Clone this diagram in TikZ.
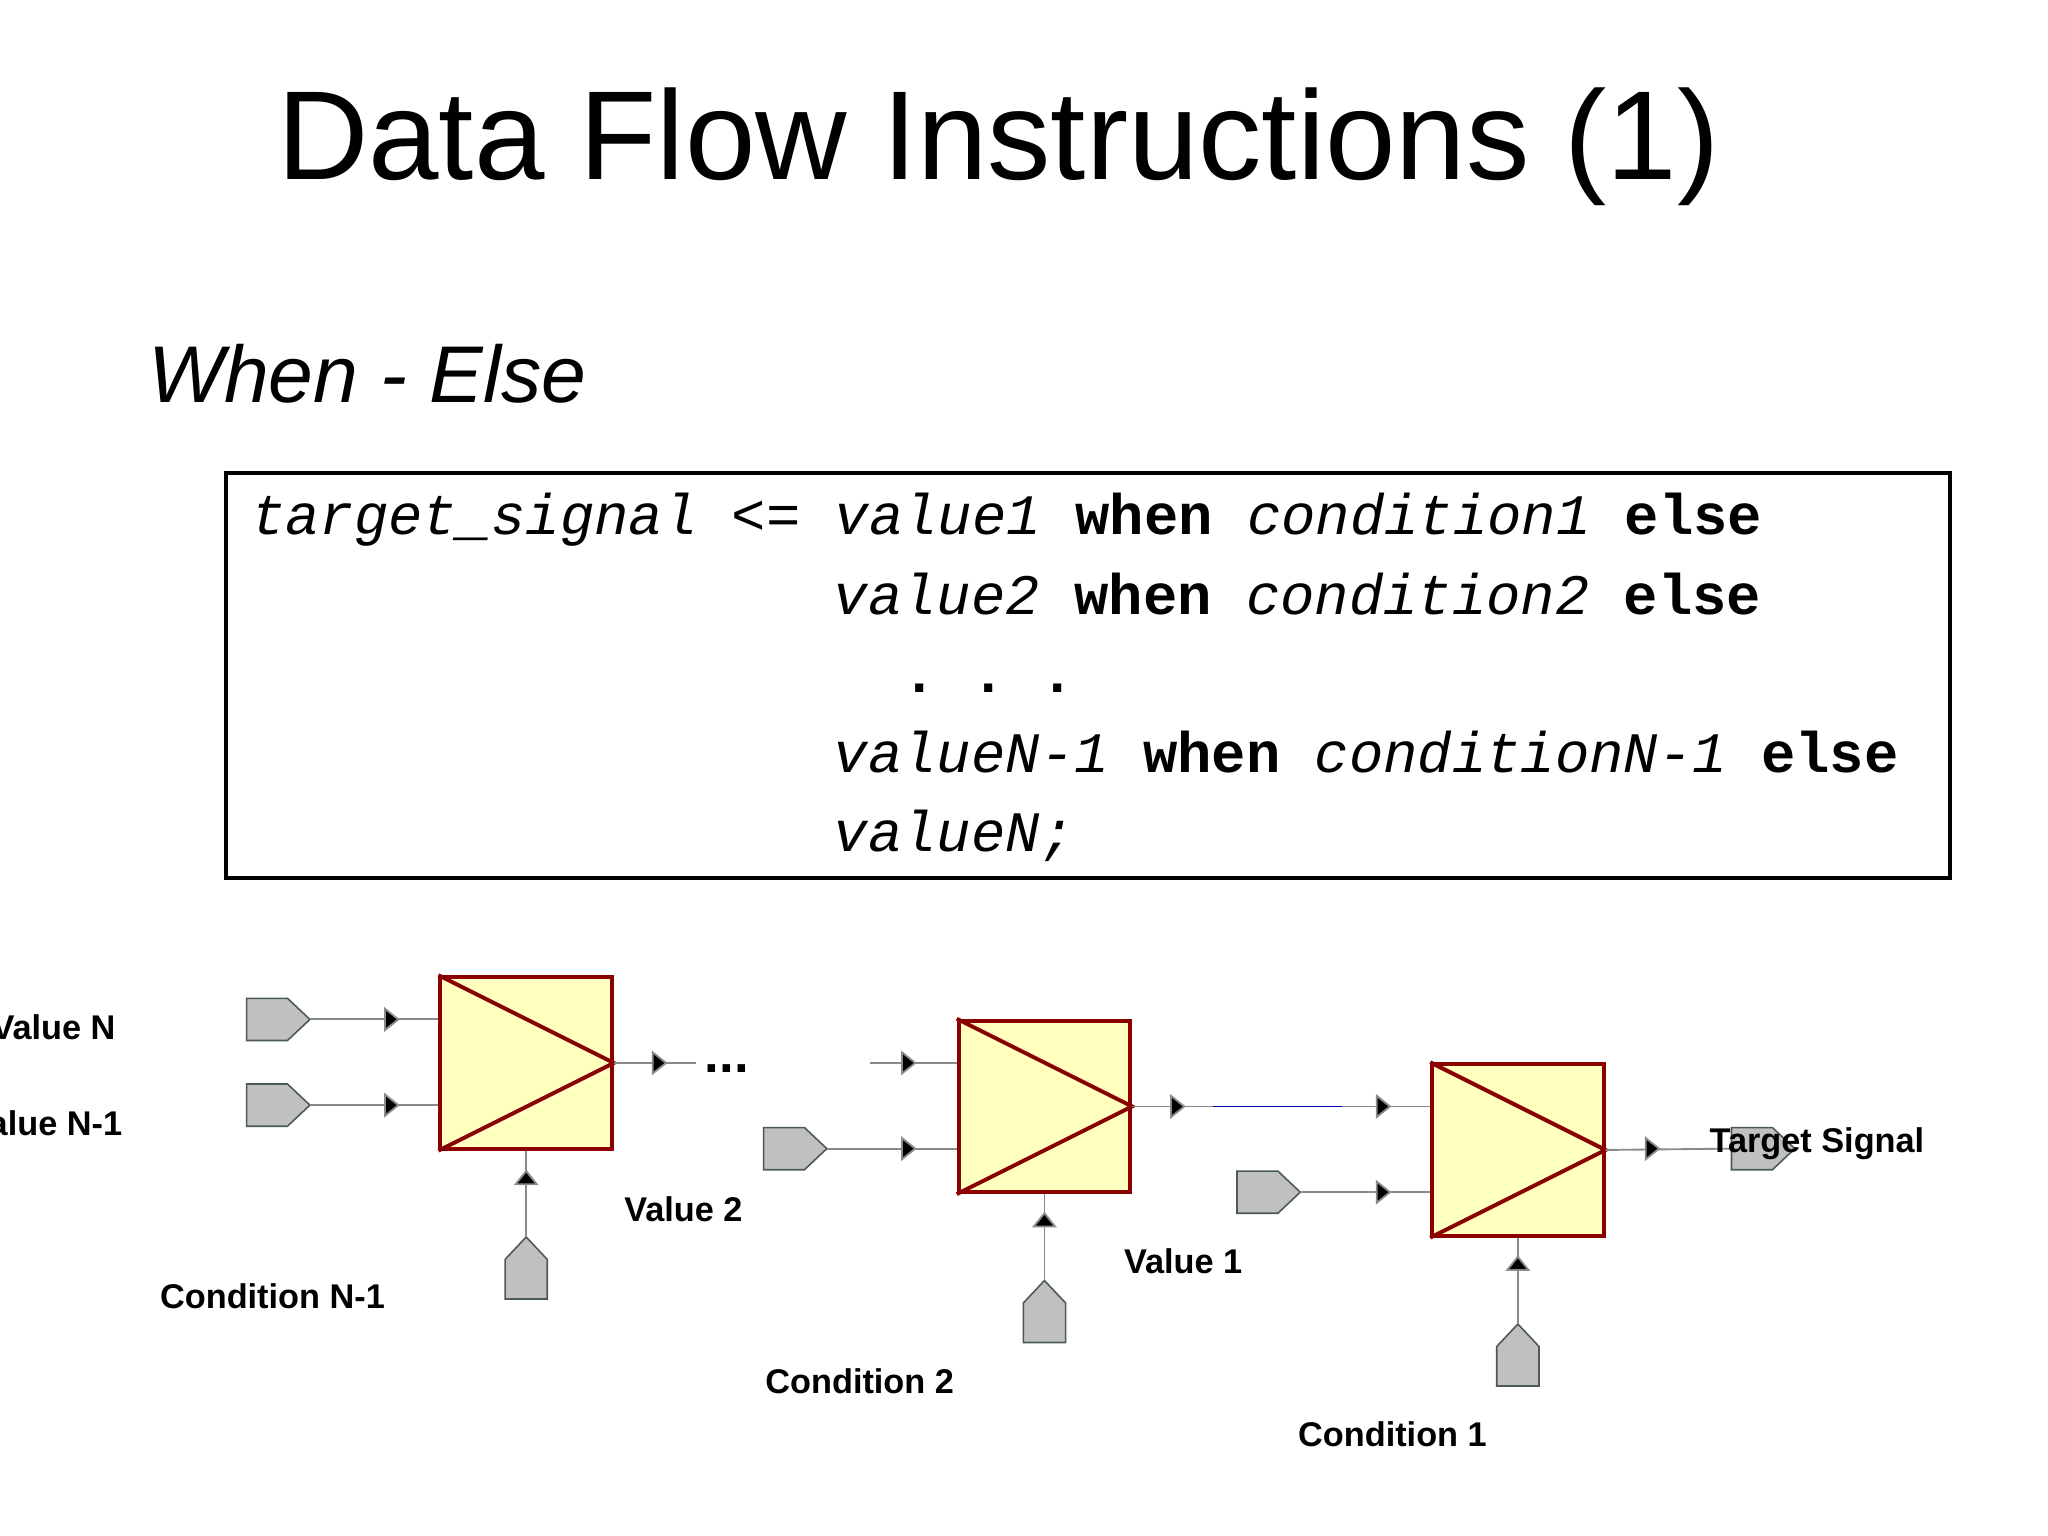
\documentclass[tikz,border=0pt]{standalone}
\usepackage{fontspec}
\setmainfont{Liberation Sans}
\newfontfamily\monof{Liberation Mono}
\definecolor{muxfill}{HTML}{FFFFC0}
\definecolor{muxline}{HTML}{8B0000}
\definecolor{portfill}{HTML}{C0C0C0}
\definecolor{portline}{HTML}{4A5A5A}
\definecolor{wire}{HTML}{8A8A8A}
\begin{document}
\begin{tikzpicture}[x=0.5pt,y=-0.5pt,
  mux/.style={draw=muxline,fill=muxfill,line width=1.5pt,minimum width=65pt,minimum height=65pt,inner sep=0pt},
  muxtri/.style={draw=muxline,line width=1.5pt,line join=miter},
  wire/.style={draw=wire,line width=0.7pt},
  lbl/.style={font=\bfseries\fontsize{13pt}{15pt}\selectfont,inner sep=0pt},
  code/.style={font=\monof\fontsize{21.7pt}{24pt}\selectfont,inner sep=0pt,anchor=base west},
  pics/portR/.style={code={\filldraw[fill=portfill,draw=portline,line width=0.6pt] (0,-16)--(31,-16)--(48,0)--(31,16)--(0,16)--cycle;}},
  pics/portU/.style={code={\filldraw[fill=portfill,draw=portline,line width=0.6pt] (-16,47)--(-16,17)--(0,0)--(16,17)--(16,47)--cycle;}},
  pics/triR/.style={code={\fill[wire] (-10,-8)--(0,0)--(-10,8)--cycle;}},
  pics/triU/.style={code={\fill[wire] (-8,10)--(0,0)--(8,10)--cycle;}},
]
\useasboundingbox (0,0) rectangle (1553,1164);
\node[font=\fontsize{48pt}{58pt}\selectfont,anchor=base,inner sep=0pt] (title) at (757,136) {Data Flow Instructions (1)};
\node[font=\itshape\fontsize{30.5pt}{36pt}\selectfont,anchor=base west,inner sep=0pt] (sub) at (112,305) {When - Else};
\node[draw,line width=1.5pt,minimum width=653.5pt,minimum height=153.5pt,anchor=north west,inner sep=0pt] (box) at (170,357) {};
\node[code] (l1) at (190,405) {\itshape target\_signal <= value1 \upshape\bfseries when \mdseries\itshape condition1 \upshape\bfseries else};
\node[code] (l2) at (632,466) {\itshape value2 \upshape\bfseries when \mdseries\itshape condition2 \upshape\bfseries else};
\node[code] (l3) at (632,525) {\bfseries\ \ .\ .\ .};
\node[code] (l4) at (632,586) {\itshape valueN-1 \upshape\bfseries when \mdseries\itshape conditionN-1 \upshape\bfseries else};
\node[code] (l5) at (632,646) {\itshape valueN;};
% muxes
\node[mux] (m1) at (399,806) {};
\node[mux] (m2) at (792,839) {};
\node[mux] (m3) at (1151,872) {};
\foreach \m in {m1,m2,m3} \draw[muxtri] (\m.north west) -- (\m.east) -- (\m.south west);
% ports
\coordinate (p1) at (235,773); \pic at (187,773) {portR};
\coordinate (p2) at (235,838); \pic at (187,838) {portR};
\coordinate (p3) at (627,871); \pic at (579,871) {portR};
\coordinate (p4) at (986,904); \pic at (938,904) {portR};
\coordinate (c1) at (399,938); \pic at (399,938) {portU};
\coordinate (c2) at (792,971); \pic at (792,971) {portU};
\coordinate (c3) at (1151,1004); \pic at (1151,1004) {portU};
\coordinate (tg) at (1313,871); \pic at (1313,871) {portR};
\coordinate (e1) at (528,806);
\coordinate (f2) at (660,806);
% wires
\draw[wire] (p1) -- (p1 -| m1.west);
\draw[wire] (p2) -- (p2 -| m1.west);
\draw[wire] (c1) -- (m1.south);
\draw[wire] (m1.east) -- (e1);
\draw[wire] (f2) -- (f2 -| m2.west);
\draw[wire] (p3) -- (p3 -| m2.west);
\draw[wire] (c2) -- (m2.south);
\draw[wire] (m2.east) -- (m2.east -| m3.west);
\draw[blue!70!black,line width=0.7pt] (920,839) -- (1018,839);
\draw[wire] (p4) -- (p4 -| m3.west);
\draw[wire] (c3) -- (m3.south);
\draw[wire] (m3.east) -- (tg);
\pic at (302,773) {triR}; \pic at (302,838) {triR}; \pic at (399,888) {triU};
\pic at (505,806) {triR};
\pic at (694,806) {triR}; \pic at (694,871) {triR}; \pic at (792,920) {triU};
\pic at (898,839) {triR}; \pic at (1054,839) {triR}; \pic at (1054,904) {triR}; \pic at (1151,953) {triU};
\pic at (1258,871) {triR};
\node[font=\bfseries\fontsize{20pt}{20pt}\selectfont,anchor=base west,inner sep=0pt] (dots) at (534,813) {...};
% labels
\node[lbl,anchor=base east] at (88,788) {Value N};
\node[lbl,anchor=base east] at (93,861) {Value N-1};
\node[lbl,anchor=base west] at (121,992) {Condition N-1};
\node[lbl,anchor=base west] at (473,926) {Value 2};
\node[lbl,anchor=base west] at (580,1057) {Condition 2};
\node[lbl,anchor=base west] at (852,966) {Value 1};
\node[lbl,anchor=base west] at (984,1097) {Condition 1};
\node[lbl,anchor=base west] at (1296,874) {Target Signal};
\end{tikzpicture}
\end{document}
